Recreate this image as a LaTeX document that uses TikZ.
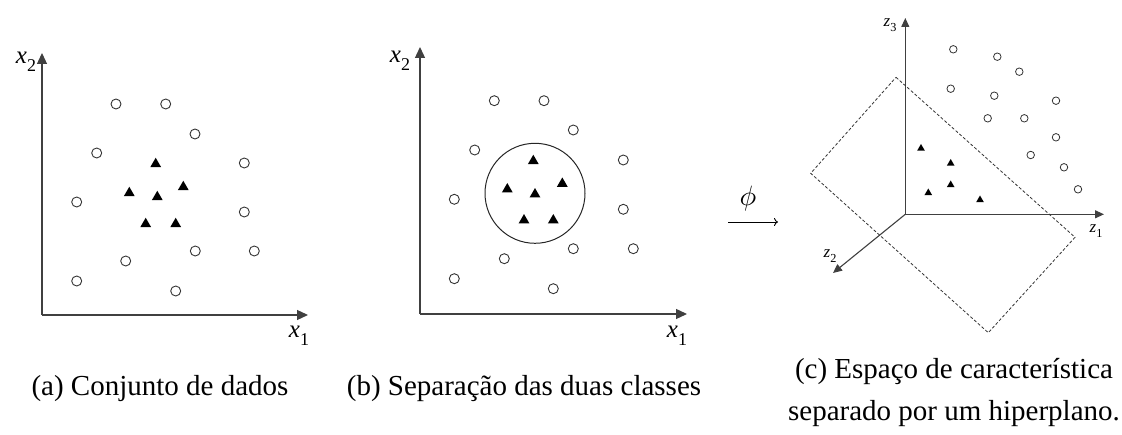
\documentclass[tikz,border=0pt]{standalone}
\usepackage{fontspec}
\setmainfont{Liberation Serif}
\usetikzlibrary{arrows.meta,shapes.geometric}
\newcommand{\axlab}[3]{{\fontsize{#3}{#3}\selectfont\itshape #1\/}{\fontsize{#3}{#3}\selectfont\raisebox{-0.3em}{\scalebox{0.72}{#2}}}}
\begin{document}
\begin{tikzpicture}[x=1pt,y=-1pt,
  axis/.style={draw=black!75,line width=1.3pt,-{Triangle[length=11pt,width=10pt]}},
  axisc/.style={draw=black!75,line width=1.1pt,-{Triangle[length=9pt,width=8pt]}},
  circ/.style={circle,draw=black!80,line width=0.9pt,minimum size=10pt,inner sep=0pt},
  circc/.style={circle,draw=black!80,line width=0.8pt,minimum size=7.5pt,inner sep=0pt},
  tri/.style={regular polygon,regular polygon sides=3,fill=black,minimum size=12.5pt,inner sep=0pt},
  tric/.style={regular polygon,regular polygon sides=3,fill=black,minimum size=9pt,inner sep=0pt},
  lab/.style={inner sep=0pt},
  captext/.style={inner sep=0pt,font=\fontsize{29}{34}\selectfont,align=center},
  plane/.style={draw=black!80,line width=0.8pt,dash pattern=on 3pt off 2pt}
]
\useasboundingbox (0,0) rectangle (1122,435);

% ---------- panel (a)
\coordinate (oa) at (42,315);
\coordinate (ya) at (42,53);
\coordinate (xa) at (308,315);
\draw[axis] (oa) -- (ya);
\draw[axis] (oa) -- (xa);
\node[lab] (ax2) at (26,62) {\axlab{x}{2}{25}};
\node[lab] (ax1) at (299,336) {\axlab{x}{1}{25}};
\node[circ] (ac1) at (116,104) {};
\node[circ] (ac2) at (165.7,104) {};
\node[circ] (ac3) at (195,134) {};
\node[circ] (ac4) at (96.7,153) {};
\node[circ] (ac5) at (244.3,163) {};
\node[circ] (ac6) at (76.7,202) {};
\node[circ] (ac7) at (244.3,212) {};
\node[circ] (ac8) at (195.3,251) {};
\node[circ] (ac9) at (254.3,251) {};
\node[circ] (ac10) at (125.7,261) {};
\node[circ] (ac11) at (76.7,281) {};
\node[circ] (ac12) at (175.7,291) {};
\node[tri] (at1) at (155.7,164) {};
\node[tri] (at2) at (129.3,193) {};
\node[tri] (at3) at (183.3,187) {};
\node[tri] (at4) at (157.3,197) {};
\node[tri] (at5) at (145.7,224) {};
\node[tri] (at6) at (175.7,224) {};
\node[captext] (capa) at (160,389) {(a) Conjunto de dados};

% ---------- panel (b)
\coordinate (ob) at (420,314);
\coordinate (yb) at (420,47);
\coordinate (xb) at (687,314);
\draw[axis] (ob) -- (yb);
\draw[axis] (ob) -- (xb);
\node[lab] (bx2) at (400,61) {\axlab{x}{2}{25}};
\node[lab] (bx1) at (677,336) {\axlab{x}{1}{25}};
\node[circle,draw=black!85,line width=1pt,minimum size=100pt,inner sep=0pt] (sep) at (535,193.3) {};
\node[circ] (bc1) at (494.3,100.7) {};
\node[circ] (bc2) at (544,100.7) {};
\node[circ] (bc3) at (573.3,130) {};
\node[circ] (bc4) at (474.7,150) {};
\node[circ] (bc5) at (623.3,160) {};
\node[circ] (bc6) at (454.3,199.3) {};
\node[circ] (bc7) at (623.3,209.3) {};
\node[circ] (bc8) at (573.3,248.7) {};
\node[circ] (bc9) at (633.3,248.7) {};
\node[circ] (bc10) at (504.3,258.7) {};
\node[circ] (bc11) at (454.3,278.7) {};
\node[circ] (bc12) at (553.3,288.7) {};
\node[tri] (bt1) at (533.3,161) {};
\node[tri] (bt2) at (507.3,189.3) {};
\node[tri] (bt3) at (562.3,183.7) {};
\node[tri] (bt4) at (535,194.3) {};
\node[tri] (bt5) at (524,220.3) {};
\node[tri] (bt6) at (553.3,220.3) {};
\node[captext] (capb) at (524,389) {(b) Separação das duas classes};

% ---------- mapping arrow
\coordinate (pa) at (728,222);
\coordinate (pb) at (778,222);
\draw[line width=0.9pt,-{To[length=4pt,width=8pt]}] (pa) -- (pb);
\node[lab] (phi) at (748,199) {\scalebox{2.8}{$\phi$}};

% ---------- panel (c)
\coordinate (oc) at (905.3,214.3);
\coordinate (z3) at (905.3,18);
\coordinate (z1) at (1104,214.3);
\coordinate (z2) at (833,273);
\draw[axisc] (oc) -- (z3);
\draw[axisc] (oc) -- (z1);
\draw[axisc] (oc) -- (z2);
\node[lab] (lz3) at (890,25) {\axlab{z}{3}{17}};
\node[lab] (lz1) at (1096,231) {\axlab{z}{1}{17}};
\node[lab] (lz2) at (830,256) {\axlab{z}{2}{17}};
\coordinate (p1) at (896,77.3);
\coordinate (p2) at (1075,237.3);
\coordinate (p3) at (988.3,332.7);
\coordinate (p4) at (810.7,173.3);
\draw[plane] (p1) -- (p2) -- (p3) -- (p4) -- cycle;
\node[circc] (cc1) at (953.3,49.3) {};
\node[circc] (cc2) at (997.3,56.7) {};
\node[circc] (cc3) at (1019.3,71.7) {};
\node[circc] (cc4) at (950.7,88.7) {};
\node[circc] (cc5) at (994.3,95.7) {};
\node[circc] (cc6) at (1056,100.7) {};
\node[circc] (cc7) at (987.7,118.3) {};
\node[circc] (cc8) at (1024.3,118.3) {};
\node[circc] (cc9) at (1056,137.3) {};
\node[circc] (cc10) at (1030.7,155) {};
\node[circc] (cc11) at (1064,167.3) {};
\node[circc] (cc12) at (1078,189.3) {};
\node[tric] (ct1) at (921,148.5) {};
\node[tric] (ct2) at (950.7,163.5) {};
\node[tric] (ct3) at (950.7,185) {};
\node[tric] (ct4) at (928.3,193) {};
\node[tric] (ct5) at (980,200) {};
\node[captext] (capc) at (954,393) {(c) Espaço de característica\\[8pt]separado por um hiperplano.};
\end{tikzpicture}
\end{document}
